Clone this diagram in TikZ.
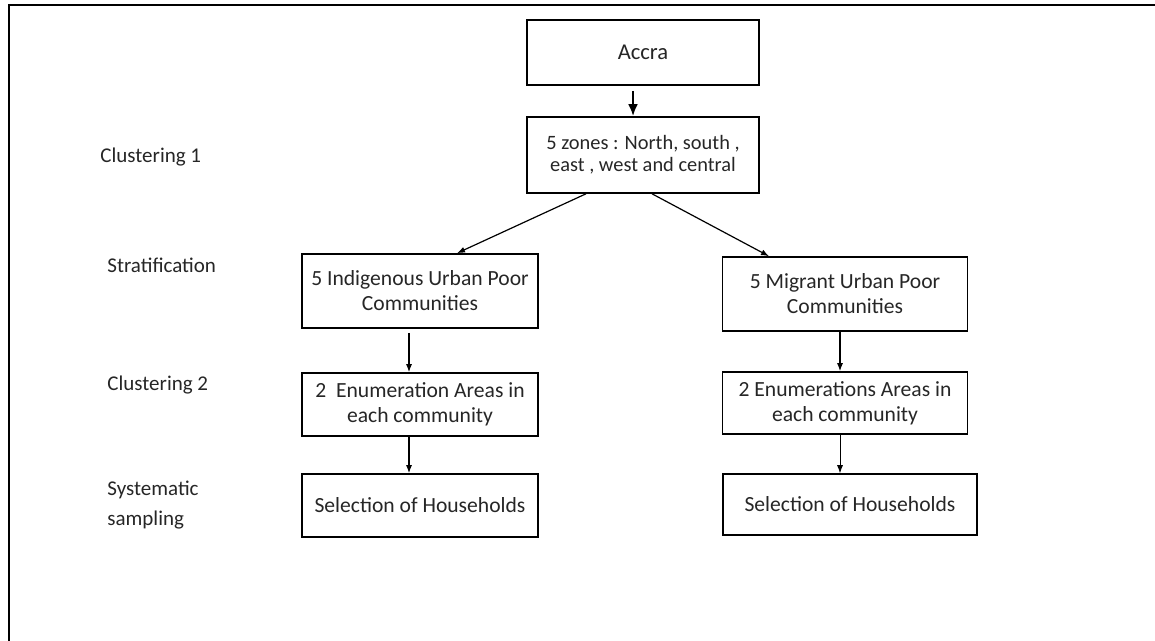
\documentclass[tikz,border=0pt]{standalone}
\usepackage{fontspec}
\setmainfont{Carlito}
\usetikzlibrary{positioning, arrows.meta, calc}

\begin{document}
\begin{tikzpicture}[x=0.5pt, y=-0.5pt,
    stage/.style={draw, line width=0.8pt, align=center, inner sep=0pt, text=black!85, font=\fontsize{10.8}{12.5}\selectfont},
    levelname/.style={anchor=west, align=left, inner sep=0pt, text=black!85, font=\fontsize{10.5}{15}\selectfont},
    flow/.style={-{Latex[length=4pt,width=3pt]}, line width=0.6pt}]
    \useasboundingbox (0,0) rectangle (1155,641);

    % Draw frame
    \draw[line width=1pt] (9,641) -- (9,5) -- (1155,5);

    % Draw boxes
    \node[stage, minimum width=116pt, minimum height=32.5pt, font=\fontsize{11.3}{13}\selectfont] (accra) at (643,52.5) {Accra};
    \node[stage, minimum width=116pt, minimum height=38pt, font=\fontsize{10.2}{11}\selectfont] (zones) at (643,155) {5 zones : North, south ,\\east , west and central};
    \node[stage, minimum width=118pt, minimum height=37pt] (indig) at (420,291) {5 Indigenous Urban Poor\\Communities};
    \node[stage, minimum width=122.5pt, minimum height=37pt] (migr) at (845,294) {5 Migrant Urban Poor\\Communities};
    \node[stage, minimum width=118pt, minimum height=31.5pt] (enumL) at (420,404.5) {2\ \ Enumeration Areas in\\each community};
    \node[stage, minimum width=122.5pt, minimum height=31pt] (enumR) at (845,403) {2 Enumerations Areas in\\each community};
    \node[stage, minimum width=118pt, minimum height=31.5pt] (selL) at (420,505.5) {Selection of Households};
    \node[stage, minimum width=127pt, minimum height=30.5pt] (selR) at (850,504.5) {Selection of Households};

    % Level names on the left
    \foreach \name/\x/\y/\txt in {clu1/100/157/Clustering 1, strat/107/265/Stratification, clu2/107/385/Clustering 2, sys/107/505/{Systematic\\sampling}} {
      \node[levelname] (\name) at (\x,\y) {\txt};
    }

    % Draw arrows
    \coordinate (trunk) at (633,0);
    \coordinate (colL) at (409,0);
    \coordinate (colR) at (840,0);
    \draw[line width=1.3pt, -{Latex[length=6pt,width=5pt]}] ($(accra.south -| trunk)+(0,5)$) -- (zones.north -| trunk);
    \draw[flow] ($(zones.south)+(-57,0)$) -- ($(indig.north)+(37,0)$);
    \draw[flow] ($(zones.south)+(9,0)$) -- ($(migr.north)+(-76,0)$);
    \draw[flow] ($(indig.south -| colL)+(0,4)$) -- (enumL.north -| colL);
    \draw[flow] (enumL.south -| colL) -- (selL.north -| colL);
    \draw[flow] (migr.south -| colR) -- (enumR.north -| colR);
    \draw[flow, line width=0.4pt] (enumR.south -| colR) -- (selR.north -| colR);
  \end{tikzpicture}
\end{document}
